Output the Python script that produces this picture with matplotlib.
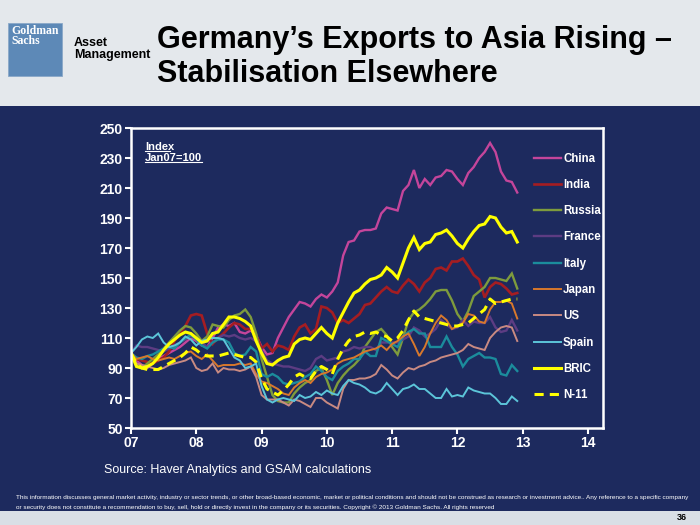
import matplotlib
matplotlib.use("Agg")
import matplotlib.pyplot as plt
from matplotlib.patches import Rectangle
from matplotlib.lines import Line2D

# Germany's exports by destination, index Jan07 = 100, monthly Jan07..Dec12
china = [100, 95, 92, 90, 93, 96, 98, 100, 102, 104, 107, 110,
         108, 105, 104, 110, 117, 119, 118, 120, 114, 113, 115, 112,
         104, 99, 100, 110, 117, 124, 129, 134, 133, 131, 136, 139,
         137, 141, 147, 165, 174, 175, 181, 182, 182, 183, 193, 197,
         196, 195, 208, 212, 222, 210, 216, 212, 217, 218, 222, 221,
         216, 212, 220, 224, 230, 234, 240, 234, 221, 215, 214, 207]
india = [100, 96, 95, 94, 93, 95, 97, 101, 108, 113, 118, 125,
         126, 125, 113, 106, 110, 113, 117, 120, 119, 116, 116, 112,
         103, 106, 101, 105, 104, 102, 111, 117, 119, 113, 116, 131,
         130, 127, 120, 122, 120, 123, 126, 132, 133, 137, 141, 144,
         141, 140, 145, 149, 146, 141, 147, 150, 156, 157, 155, 161,
         161, 163, 158, 152, 149, 137, 144, 147, 146, 143, 139, 140]
russia = [100, 92, 90, 93, 96, 99, 103, 107, 111, 115, 118, 117,
          113, 108, 111, 119, 118, 117, 122, 125, 126, 129, 124, 113,
          96, 84, 72, 68, 67, 67, 73, 77, 80, 82, 88, 90,
          82, 72, 80, 85, 89, 92, 96, 104, 109, 114, 116, 112,
          104, 99, 110, 122, 127, 129, 132, 136, 141, 142, 142, 135,
          126, 121, 128, 138, 141, 144, 150, 150, 149, 148, 153, 143]
france = [100, 105, 104, 104, 103, 102, 101, 103, 105, 107, 109, 111,
          110, 107, 104, 107, 110, 112, 111, 112, 110, 109, 110, 108,
          102, 95, 93, 92, 91, 91, 90, 89, 88, 90, 96, 98,
          95, 96, 97, 101, 102, 104, 103, 104, 104, 102, 107, 107,
          107, 107, 109, 111, 117, 115, 111, 113, 116, 122, 119, 116,
          117, 122, 118, 121, 120, 120, 124, 117, 114, 115, 122, 115]
italy = [100, 97, 96, 98, 99, 101, 103, 104, 103, 107, 110, 112,
         109, 105, 103, 107, 109, 109, 107, 100, 98, 99, 104, 101,
         86, 84, 86, 84, 80, 79, 80, 81, 84, 86, 91, 88,
         84, 82, 88, 91, 93, 96, 96, 101, 98, 98, 110, 108,
         106, 104, 111, 114, 116, 113, 113, 104, 104, 104, 111, 104,
         99, 91, 96, 98, 100, 97, 97, 96, 86, 85, 92, 88]
japan = [100, 96, 97, 98, 96, 95, 96, 97, 96, 98, 100, 101,
         98, 96, 99, 95, 91, 92, 92, 92, 93, 92, 93, 86,
         81, 80, 78, 76, 73, 72, 77, 80, 82, 80, 84, 86,
         87, 89, 93, 95, 96, 97, 99, 101, 102, 103, 105, 102,
         106, 108, 111, 113, 106, 98, 104, 113, 120, 125, 122, 116,
         118, 120, 126, 125, 121, 120, 129, 134, 134, 135, 133, 123]
us = [100, 93, 92, 91, 90, 89, 90, 92, 93, 94, 95, 97,
      90, 88, 89, 93, 87, 90, 89, 89, 88, 89, 91, 84,
      72, 69, 69, 69, 67, 65, 69, 68, 66, 64, 70, 70,
      67, 65, 63, 76, 82, 82, 83, 83, 84, 86, 92, 89,
      85, 83, 87, 90, 89, 91, 92, 94, 95, 97, 98, 99,
      100, 102, 106, 104, 103, 102, 110, 114, 117, 118, 117, 108]
spain = [100, 104, 109, 111, 110, 113, 107, 104, 105, 107, 111, 109,
         105, 108, 109, 110, 110, 109, 103, 97, 95, 90, 91, 93,
         78, 69, 67, 69, 70, 69, 68, 72, 70, 71, 74, 72,
         75, 73, 72, 78, 82, 80, 79, 77, 74, 73, 75, 80,
         76, 72, 76, 77, 79, 76, 76, 73, 70, 70, 76, 71,
         72, 71, 77, 75, 74, 73, 73, 70, 66, 66, 71, 68]
bric = [100, 91, 90, 91, 93, 97, 102, 106, 109, 112, 114, 113,
        110, 107, 108, 113, 114, 119, 124, 124, 123, 121, 118, 108,
        100, 93, 92, 95, 97, 98, 106, 109, 110, 109, 113, 117,
        113, 110, 120, 127, 134, 140, 142, 146, 149, 150, 152, 157,
        154, 150, 160, 170, 177, 169, 173, 174, 179, 180, 182, 178,
        173, 170, 176, 181, 185, 186, 191, 190, 184, 180, 181, 174]
n11 = [100, 93, 90, 89, 89, 89, 91, 93, 95, 97, 100, 104,
       102, 99, 98, 98, 98, 99, 100, 99, 98, 97, 97, 94,
       83, 76, 74, 72, 75, 79, 84, 86, 84, 83, 88, 91,
       89, 86, 96, 103, 108, 111, 112, 114, 113, 114, 112, 111,
       108, 110, 115, 122, 128, 124, 123, 122, 121, 120, 119, 118,
       118, 119, 120, 123, 126, 129, 136, 133, 134, 135, 136, 136]

names = ["China", "India", "Russia", "France", "Italy", "Japan", "US", "Spain", "BRIC", "N-11"]
year_ticks = [7, 8, 9, 10, 11, 12, 13, 14]
year_labels = ["07", "08", "09", "10", "11", "12", "13", "14"]
index_ticks = [50, 70, 90, 110, 130, 150, 170, 190, 210, 230, 250]

NAVY = "#1d2a5e"
GREY = "#e4e8ec"
styles = {
    "China": dict(color="#c4459b", lw=1.7),
    "India": dict(color="#a51d22", lw=1.9),
    "Russia": dict(color="#7e9b3d", lw=1.7),
    "France": dict(color="#5d3c83", lw=1.7),
    "Italy": dict(color="#1b8c9c", lw=1.7),
    "Japan": dict(color="#d8782c", lw=1.4),
    "US": dict(color="#c98a82", lw=1.4),
    "Spain": dict(color="#5cc5d9", lw=1.4),
    "BRIC": dict(color="#ffff00", lw=2.2),
    "N-11": dict(color="#ffff00", lw=2.2, ls=(0, (3, 2))),
}

plt.rcParams["font.family"] = ["Liberation Sans", "DejaVu Sans"]
NARROW = ["Liberation Sans Narrow", "Liberation Sans"]

fig = plt.figure(figsize=(7, 5.25), dpi=100)
fig.patch.set_facecolor(GREY)

# slide background: navy panel between header (106px) and footer strip (14px)
fig.add_artist(Rectangle((0, 14 / 525), 1, 1 - 14 / 525 - 106 / 525,
                         transform=fig.transFigure, facecolor=NAVY, edgecolor="none", zorder=0))
fig.add_artist(Rectangle((0, 0), 1, 14 / 525, transform=fig.transFigure,
                         facecolor="#d9dfe6", edgecolor="none", zorder=0))

# logo block
fig.add_artist(Rectangle((8 / 700, 1 - 76 / 525), 54 / 700, 53 / 525,
                         transform=fig.transFigure, facecolor="#5d89b7", edgecolor="#8aa8c8", lw=0.6))
fig.text(11 / 700, 1 - 25 / 525, "Goldman\nSachs", color="white", fontsize=8.5, va="top", ha="left",
         family="Liberation Serif", fontweight="bold", linespacing=0.8)
fig.text(74 / 700, 1 - 49 / 525, "Asset\nManagement", color="black", fontsize=9, va="center", ha="left",
         family=NARROW, fontweight="bold", linespacing=1.05)

fig.text(157 / 700, 1 - 57 / 525, "Germany\u2019s Exports to Asia Rising \u2013\nStabilisation Elsewhere",
         fontsize=22, fontweight="bold", color="black", ha="left", va="center", linespacing=1.2)

ax = fig.add_axes([131 / 700, 1 - 428 / 525, 472 / 700, 300 / 525])
ax.set_facecolor(NAVY)

xs = [7 + i / 12 for i in range(len(china))]
for name, ys in zip(names, [china, india, russia, france, italy, japan, us, spain, bric, n11]):
    ax.plot(xs, ys, label=name, solid_joinstyle="miter", **styles[name])

ax.set_xlim(7, 14.23)
ax.set_ylim(50, 250)
ax.set_xticks(year_ticks)
ax.set_xticklabels(year_labels)
ax.set_yticks(index_ticks)
for sp in ax.spines.values():
    sp.set_color("white")
    sp.set_linewidth(1.8)
ax.tick_params(colors="white", width=1.5, length=4, labelsize=10, pad=2)
for lbl in ax.get_xticklabels() + ax.get_yticklabels():
    lbl.set_fontweight("bold")

leg = ax.legend(loc="upper left", bbox_to_anchor=(0.853, 0.918), frameon=False, fontsize=8.3,
                labelspacing=1.24, handlelength=2.4, handletextpad=0.15, borderpad=0, borderaxespad=0)
for t in leg.get_texts():
    t.set_color("white")
    t.set_fontweight("bold")

# "Index Jan07=100" note, underlined
note = ax.text(0.03, 0.955, "Index\nJan07=100", transform=ax.transAxes, color="white", fontsize=8,
               fontweight="bold", va="top", ha="left", linespacing=1.15)
fig.canvas.draw()
rend = fig.canvas.get_renderer()
bb = note.get_window_extent(rend)
line_h = bb.height / 2
for k, w in enumerate([0.43, 1.0]):
    yb = bb.y1 - line_h * (k + 1) + 1
    fig.add_artist(Line2D([bb.x0 / 700, (bb.x0 + bb.width * w) / 700], [yb / 525, yb / 525],
                          color="white", lw=0.8))

fig.text(104 / 700, 1 - 470 / 525, "Source: Haver Analytics and GSAM calculations",
         color="white", fontsize=9, va="center", ha="left")
fig.text(16 / 700, 1 - 497 / 525,
         "This information discusses general market activity, industry or sector trends, or other broad-based "
         "economic, market or political conditions and should not be construed as research or investment advice.. "
         "Any reference to a specific company", color="white", fontsize=4.6, va="center", ha="left",
         family=NARROW)
fig.text(16 / 700, 1 - 507 / 525,
         "or security does not constitute a recommendation to buy, sell, hold or directly invest in the company "
         "or its securities. Copyright \u00a9 2013 Goldman Sachs. All rights reserved",
         color="white", fontsize=4.6, va="center", ha="left", family=NARROW)
fig.text(682 / 700, 1 - 517 / 525, "36", color="black", fontsize=6.5, fontweight="bold",
         va="center", ha="center")

fig.savefig("out.png", dpi=100, facecolor=fig.get_facecolor())
